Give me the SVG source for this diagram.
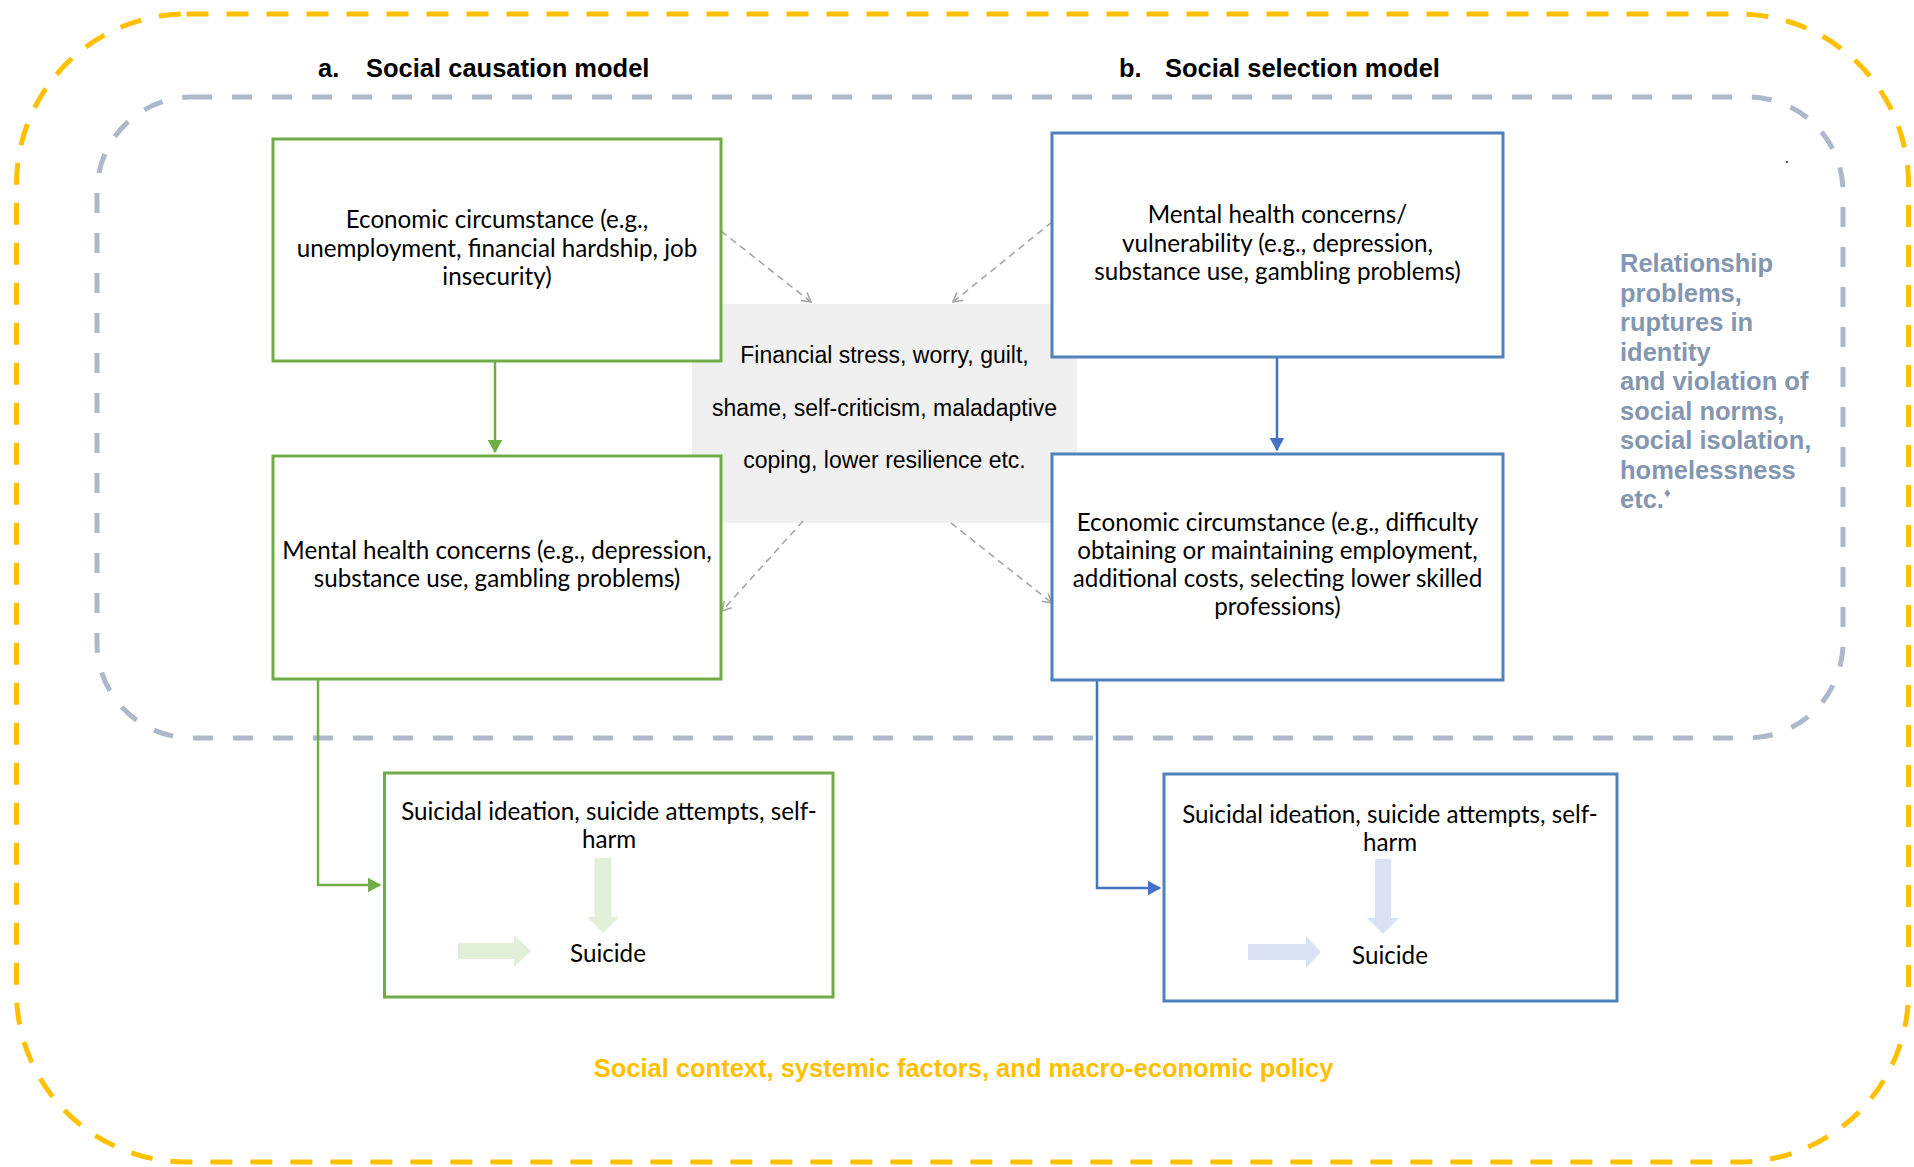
<svg xmlns="http://www.w3.org/2000/svg" width="1914" height="1167" viewBox="0 0 1914 1167">
  <style>
    .frame-outer { fill: none; stroke: #FFC000; stroke-width: 5; stroke-dasharray: 22 18; }
    .frame-inner { fill: none; stroke: #ADB9CA; stroke-width: 5; stroke-dasharray: 20 20; }
    .box-green { fill: #FFFFFF; stroke: #70AD47; stroke-width: 3; }
    .box-blue { fill: #FFFFFF; stroke: #4F81BD; stroke-width: 3; }
    .box-text { font-family: "Lato", "Liberation Sans", sans-serif; font-size: 24.2px; fill: #000000; text-anchor: middle; }
    .mid-text { font-family: "Liberation Sans", Arial, sans-serif; font-size: 23px; fill: #000000; text-anchor: middle; }
    .title { font-family: "Liberation Sans", Arial, sans-serif; font-size: 25.5px; font-weight: bold; fill: #000000; }
    .side-text { font-family: "Liberation Sans", Arial, sans-serif; font-size: 25.5px; font-weight: bold; fill: #8497B0; }
    .context-text { font-family: "Liberation Sans", Arial, sans-serif; font-size: 25.5px; font-weight: bold; fill: #FFC000; text-anchor: middle; }
    .link-green { fill: none; stroke: #70AD47; stroke-width: 2.5; }
    .link-blue { fill: none; stroke: #4472C4; stroke-width: 2.5; }
    .link-dash { fill: none; stroke: #A6A6A6; stroke-width: 1.6; stroke-dasharray: 7 5; }
  </style>
  <defs>
    <marker id="head-green" markerWidth="6" markerHeight="6" refX="5" refY="3" orient="auto" markerUnits="strokeWidth">
      <path d="M0,0 L5.5,3 L0,6 Z" fill="#70AD47"/>
    </marker>
    <marker id="head-blue" markerWidth="6" markerHeight="6" refX="5" refY="3" orient="auto" markerUnits="strokeWidth">
      <path d="M0,0 L5.5,3 L0,6 Z" fill="#4472C4"/>
    </marker>
    <marker id="head-open" markerWidth="12" markerHeight="12" refX="10" refY="6" orient="auto" markerUnits="userSpaceOnUse">
      <path d="M1,1 L10,6 L1,11" fill="none" stroke="#A6A6A6" stroke-width="1.6"/>
    </marker>
  </defs>

  <rect width="1914" height="1167" fill="#FFFFFF"/>

  <!-- outer frame: social context -->
  <rect class="frame-outer" x="16.5" y="14" width="1892" height="1148" rx="170" ry="170"/>
  <!-- inner frame: relationship and identity factors -->
  <rect class="frame-inner" x="97" y="97" width="1746" height="641" rx="95" ry="95"/>

  <!-- column headings -->
  <text class="title" y="77"><tspan x="318">a.</tspan><tspan x="366">Social causation model</tspan></text>
  <text class="title" y="77"><tspan x="1119">b.</tspan><tspan x="1165">Social selection model</tspan></text>

  <!-- shared mediators -->
  <g id="mediators">
    <rect x="692" y="304" width="385" height="219" fill="#F0F0F0"/>
    <text class="mid-text" x="884.5" y="363">Financial stress, worry, guilt,</text>
    <text class="mid-text" x="884.5" y="416">shame, self-criticism, maladaptive</text>
    <text class="mid-text" x="884.5" y="468">coping, lower resilience etc.</text>
  </g>

  <!-- connectors -->
  <g id="connectors">
    <path class="link-green" d="M495,361 L495,452" marker-end="url(#head-green)"/>
    <path class="link-green" d="M318,679 L318,885 L380,885" marker-end="url(#head-green)"/>
    <path class="link-blue" d="M1277,357 L1277,450" marker-end="url(#head-blue)"/>
    <path class="link-blue" d="M1097,680 L1097,888 L1160,888" marker-end="url(#head-blue)"/>
    <path class="link-dash" d="M721,231 L811,302" marker-end="url(#head-open)"/>
    <path class="link-dash" d="M1052,222 L953,302" marker-end="url(#head-open)"/>
    <path class="link-dash" d="M803,521 L722,611" marker-end="url(#head-open)"/>
    <path class="link-dash" d="M951,523 L1052,603" marker-end="url(#head-open)"/>
  </g>

  <!-- a. social causation model -->
  <g id="causation-economic">
    <rect class="box-green" x="273" y="139" width="448" height="222"/>
    <text class="box-text" x="497" y="228">Economic circumstance (e.g.,</text>
    <text class="box-text" x="497" y="257">unemployment, financial hardship, job</text>
    <text class="box-text" x="497" y="285">insecurity)</text>
  </g>
  <g id="causation-mental-health">
    <rect class="box-green" x="273" y="456" width="448" height="223"/>
    <text class="box-text" x="497" y="559">Mental health concerns (e.g., depression,</text>
    <text class="box-text" x="497" y="587">substance use, gambling problems)</text>
  </g>
  <g id="causation-suicide">
    <rect class="box-green" x="384.5" y="773" width="448.5" height="224"/>
    <text class="box-text" x="609" y="820">Suicidal ideation, suicide attempts, self-</text>
    <text class="box-text" x="609" y="848">harm</text>
    <path d="M594.5,858 L611.5,858 L611.5,917 L619,917 L603,933 L587,917 L594.5,917 Z" fill="#E2F0D9"/>
    <path d="M458,943 L514,943 L514,935 L531,951 L514,967 L514,959 L458,959 Z" fill="#E2F0D9"/>
    <text class="box-text" x="608" y="962">Suicide</text>
  </g>

  <!-- b. social selection model -->
  <g id="selection-mental-health">
    <rect class="box-blue" x="1052" y="133" width="451" height="224"/>
    <text class="box-text" x="1277.5" y="223">Mental health concerns/</text>
    <text class="box-text" x="1277.5" y="251.5">vulnerability (e.g., depression,</text>
    <text class="box-text" x="1277.5" y="279.5">substance use, gambling problems)</text>
  </g>
  <g id="selection-economic">
    <rect class="box-blue" x="1052" y="454" width="451" height="226"/>
    <text class="box-text" x="1277.5" y="531">Economic circumstance (e.g., difficulty</text>
    <text class="box-text" x="1277.5" y="559">obtaining or maintaining employment,</text>
    <text class="box-text" x="1277.5" y="587">additional costs, selecting lower skilled</text>
    <text class="box-text" x="1277.5" y="615">professions)</text>
  </g>
  <g id="selection-suicide">
    <rect class="box-blue" x="1164" y="774" width="453" height="227"/>
    <text class="box-text" x="1390" y="823">Suicidal ideation, suicide attempts, self-</text>
    <text class="box-text" x="1390" y="851">harm</text>
    <path d="M1375,859 L1391,859 L1391,918 L1399,918 L1383,934 L1367,918 L1375,918 Z" fill="#DAE3F3"/>
    <path d="M1248,944 L1306,944 L1306,936 L1321,952 L1306,968 L1306,960 L1248,960 Z" fill="#DAE3F3"/>
    <text class="box-text" x="1390" y="964">Suicide</text>
  </g>

  <!-- side note inside the inner frame -->
  <g id="relationship-factors">
    <text class="side-text">
      <tspan x="1620" y="272">Relationship</tspan>
      <tspan x="1620" y="301.5">problems,</tspan>
      <tspan x="1620" y="331">ruptures in</tspan>
      <tspan x="1620" y="360.5">identity</tspan>
      <tspan x="1620" y="390">and violation of</tspan>
      <tspan x="1620" y="419.5">social norms,</tspan>
      <tspan x="1620" y="449">social isolation,</tspan>
      <tspan x="1620" y="478.5">homelessness</tspan>
      <tspan x="1620" y="508">etc.<tspan font-size="13" dy="-11">♦</tspan></tspan>
    </text>
    <circle cx="1787" cy="162" r="1.1" fill="#333333"/>
  </g>

  <!-- outer frame label -->
  <text id="social-context" class="context-text" x="963.5" y="1077">Social context, systemic factors, and macro-economic policy</text>
</svg>
